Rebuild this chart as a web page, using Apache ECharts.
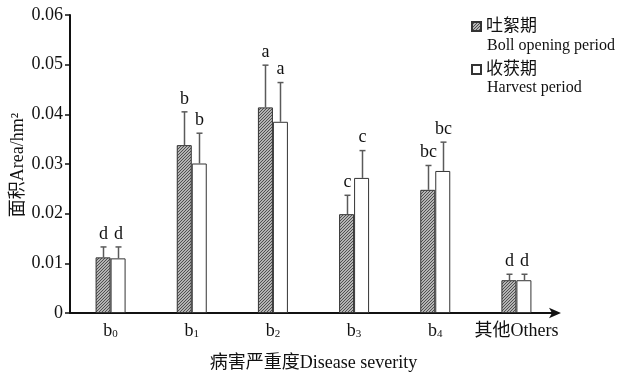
<!DOCTYPE html>
<html>
<head>
<meta charset="utf-8">
<script src="https://cdn.jsdelivr.net/npm/echarts@6/dist/echarts.min.js"></script>
<style>
html,body{margin:0;padding:0;background:#fff;}
#chart{width:622px;height:373px;}
</style>
</head>
<body>
<div id="chart"></div>
<script>
// ---- data ----
const categories = ['b0', 'b1', 'b2', 'b3', 'b4', '其他Others'];
const subscripts = ['0', '1', '2', '3', '4', ''];
const yTicks = [0, 0.01, 0.02, 0.03, 0.04, 0.05, 0.06];
const yAxisTitle = '面积Area/hm²';
const xAxisTitle = '病害严重度Disease severity';
const bollName = '吐絮期';
const bollNameEn = 'Boll opening period';
const harvestName = '收获期';
const harvestNameEn = 'Harvest period';
const bollMean = [0.0112, 0.0338, 0.0414, 0.0199, 0.0248, 0.0066];
const bollErrTop = [0.0133, 0.0405, 0.0499, 0.0237, 0.0297, 0.0078];
const harvestMean = [0.0110, 0.0301, 0.0385, 0.0272, 0.0286, 0.0066];
const harvestErrTop = [0.0133, 0.0362, 0.0464, 0.0327, 0.0344, 0.0078];
const bollLetters = ['d', 'b', 'a', 'c', 'bc', 'd'];
const harvestLetters = ['d', 'b', 'a', 'c', 'bc', 'd'];

const FONT = '"Liberation Serif", "Noto Sans CJK SC", serif';
const BAR_W = 15;

function hatchCanvas() {
  const c = document.createElement('canvas');
  c.width = 3; c.height = 3;
  const g = c.getContext('2d');
  g.fillStyle = '#b4b4b4';
  g.fillRect(0, 0, 3, 3);
  g.fillStyle = '#505050';
  g.fillRect(2, 0, 1, 1);
  g.fillRect(1, 1, 1, 1);
  g.fillRect(0, 2, 1, 1);
  return c;
}
const hatchFill = { image: hatchCanvas(), repeat: 'repeat' };

function errSeries(means, tops, letters, offset) {
  return {
    type: 'custom',
    name: 'err' + offset,
    z: 5,
    silent: true,
    data: means.map((m, i) => [i, m, tops[i]]),
    renderItem: function (params, api) {
      const i = params.dataIndex;
      const p0 = api.coord([api.value(0), api.value(1)]);
      const p1 = api.coord([api.value(0), api.value(2)]);
      const x = Math.round(p0[0] + offset) + 0.5;
      const stroke = { stroke: '#5a5a5a', lineWidth: 1.5 };
      return {
        type: 'group',
        children: [
          { type: 'line', shape: { x1: x, y1: p0[1], x2: x, y2: p1[1] }, style: stroke },
          { type: 'line', shape: { x1: x - 3, y1: p1[1], x2: x + 3, y2: p1[1] }, style: stroke },
          { type: 'text', style: { text: letters[i], x: x, y: p1[1] - 4, align: 'center', verticalAlign: 'bottom', fontSize: 18, fontFamily: FONT, fill: '#111' } }
        ]
      };
    }
  };
}

const chart = echarts.init(document.getElementById('chart'), null, { renderer: 'canvas' });
chart.setOption({
  animation: false,
  backgroundColor: '#fff',
  textStyle: { fontFamily: FONT },
  grid: { left: 70, right: 65, top: 15, bottom: 60, containLabel: false, outerBoundsMode: 'none' },
  legend: {
    orient: 'vertical',
    left: 471,
    top: 18,
    padding: 0,
    itemWidth: 9,
    itemHeight: 9,
    itemGap: 26,
    icon: 'rect',
    data: [bollName, harvestName],
    textStyle: { fontSize: 17, fontFamily: FONT, color: '#111' },
    selectedMode: false
  },
  graphic: [
    { type: 'text', left: 487, top: 38, style: { text: bollNameEn, fontSize: 16, fontFamily: FONT, fill: '#111' } },
    { type: 'text', left: 487, top: 80, style: { text: harvestNameEn, fontSize: 16, fontFamily: FONT, fill: '#111' } },
    { type: 'text', x: 18, y: 165, rotation: Math.PI / 2,
      style: { text: yAxisTitle, fontSize: 18, fontFamily: FONT, fill: '#111', align: 'center', verticalAlign: 'middle' } }
  ],
  xAxis: {
    type: 'category',
    data: categories,
    name: xAxisTitle,
    nameLocation: 'middle',
    nameGap: 41,
    nameTextStyle: { fontSize: 18, fontFamily: FONT, color: '#111' },
    axisLine: { show: true, symbol: ['none', 'arrow'], symbolSize: [8, 12], symbolOffset: [0, 4], lineStyle: { color: '#111', width: 2 } },
    axisTick: { show: false },
    axisLabel: {
      interval: 0,
      margin: 9,
      color: '#111',
      formatter: function (v, i) {
        return subscripts[i] ? '{b|b}{s|' + subscripts[i] + '}' : '{n|' + v + '}';
      },
      rich: {
        b: { fontSize: 18, fontFamily: FONT, color: '#111', verticalAlign: 'bottom', lineHeight: 18 },
        s: { fontSize: 11, fontFamily: FONT, color: '#111', verticalAlign: 'bottom', lineHeight: 11 },
        n: { fontSize: 18, fontFamily: FONT, color: '#111', lineHeight: 18 }
      }
    },
    splitLine: { show: false }
  },
  yAxis: {
    type: 'value',
    min: yTicks[0],
    max: yTicks[yTicks.length - 1],
    interval: 0.01,
    axisLine: { show: true, lineStyle: { color: '#111', width: 2 } },
    axisTick: { show: true, inside: false, length: 5, lineStyle: { color: '#111', width: 1.5 } },
    axisLabel: {
      margin: 7,
      fontSize: 18,
      fontFamily: FONT,
      color: '#111',
      formatter: v => (v === 0 ? '0' : v.toFixed(2))
    },
    splitLine: { show: false }
  },
  series: [
    {
      name: bollName,
      type: 'bar',
      barWidth: BAR_W,
      barGap: '0%',
      data: bollMean,
      itemStyle: { color: hatchFill, borderColor: '#333', borderWidth: 1 }
    },
    {
      name: harvestName,
      type: 'bar',
      barWidth: BAR_W,
      barGap: '0%',
      data: harvestMean,
      itemStyle: { color: '#fff', borderColor: '#333', borderWidth: 1 }
    },
    errSeries(bollMean, bollErrTop, bollLetters, -BAR_W / 2),
    errSeries(harvestMean, harvestErrTop, harvestLetters, BAR_W / 2)
  ]
});
</script>
</body>
</html>
